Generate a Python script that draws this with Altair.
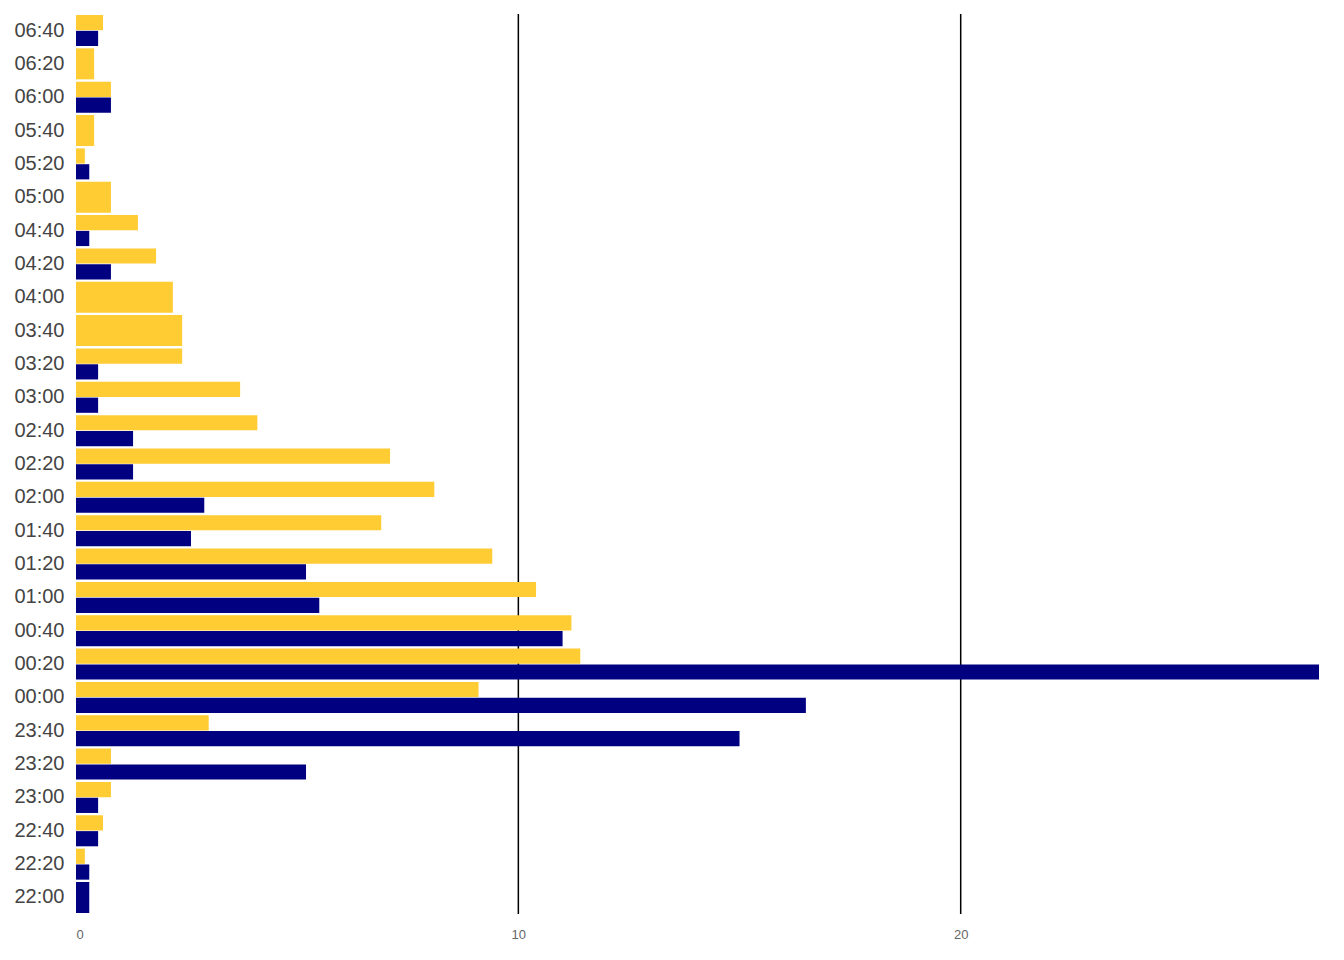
import altair as alt
import pandas as pd

times = ["22:00", "22:20", "22:40", "23:00", "23:20", "23:40", "00:00", "00:20",
         "00:40", "01:00", "01:20", "01:40", "02:00", "02:20", "02:40", "03:00",
         "03:20", "03:40", "04:00", "04:20", "04:40", "05:00", "05:20", "05:40",
         "06:00", "06:20", "06:40"]
yellow = [None, 0.2, 0.61, 0.79, 0.79, 3.0, 9.1, 11.4, 11.2, 10.4, 9.41, 6.9,
          8.1, 7.1, 4.1, 3.71, 2.4, 2.4, 2.19, 1.81, 1.4, 0.79, 0.2, 0.41,
          0.79, 0.41, 0.61]
navy = [0.3, 0.3, 0.5, 0.5, 5.2, 15.0, 16.5, 28.1, 11.0, 5.5, 5.2, 2.6,
        2.9, 1.29, 1.29, 0.5, 0.5, None, None, 0.79, 0.3, None, 0.3, None,
        0.79, None, 0.5]
gridlines = [10, 20]

rows = []
for t, a, b in zip(times, yellow, navy):
    if a is not None:
        rows.append({"time": t, "series": "a", "value": a})
    if b is not None:
        rows.append({"time": t, "series": "b", "value": b})
df = pd.DataFrame(rows)

order = list(reversed(times))
color = alt.Color("series:N", scale=alt.Scale(domain=["a", "b"], range=["#FFCC33", "#000080"]),
                  legend=None)
y = alt.Y("time:N", sort=order, title=None,
          scale=alt.Scale(paddingInner=0.07, paddingOuter=0.03),
          axis=alt.Axis(labelFontSize=20, labelColor="#444444", ticks=False, domain=False,
                        labelPadding=12))
x = alt.X("value:Q", title=None, scale=alt.Scale(domain=[0, 28.1], nice=False),
          axis=alt.Axis(values=[0, 10, 20], grid=False, domain=False, ticks=False,
                        labelFontSize=13, labelColor="#666666", labelPadding=14))

base = alt.Chart(df).transform_joinaggregate(n="count()", groupby=["time"])

single = base.transform_filter("datum.n == 1").mark_bar().encode(x=x, y=y, color=color)
paired = base.transform_filter("datum.n == 2").mark_bar().encode(
    x=x, y=y, color=color,
    yOffset=alt.YOffset("series:N", sort=["a", "b"], scale=alt.Scale(paddingInner=0.04)),
)
rules = alt.Chart(pd.DataFrame({"g": gridlines})).mark_rule(color="black", strokeWidth=1.5).encode(
    x=alt.X("g:Q")
)

chart = (rules + single + paired).properties(width=1243, height=900).configure(
    font="Liberation Sans"
).configure_view(stroke=None)

chart.save("out.html", embed_options={"renderer": "svg", "actions": False})
